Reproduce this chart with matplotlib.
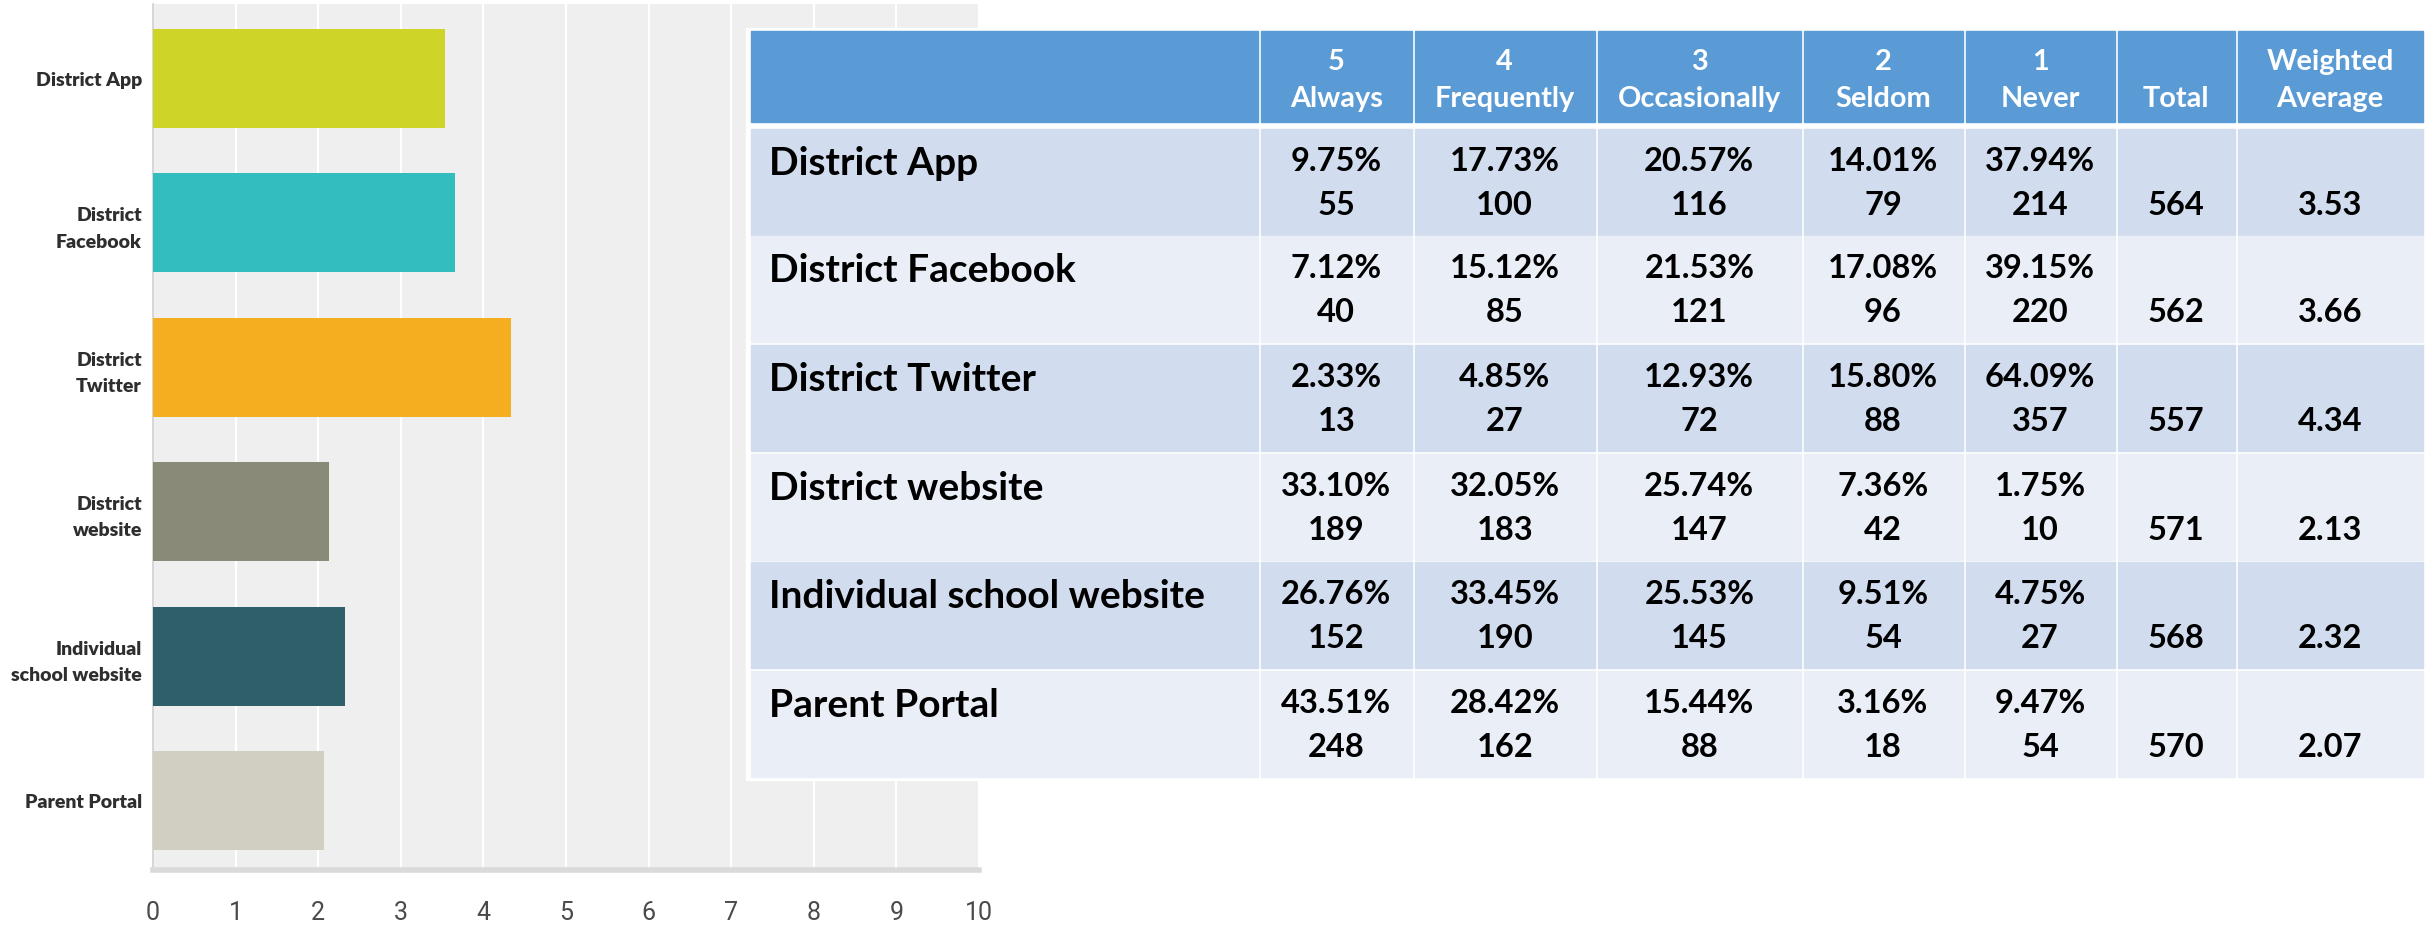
import numpy as np
import matplotlib
matplotlib.use("Agg")
import matplotlib.pyplot as plt
from matplotlib.patches import Rectangle

# --- data ---
channels = ["District App", "District Facebook", "District Twitter",
            "District website", "Individual school website", "Parent Portal"]
bar_labels = ["District App", "District\nFacebook", "District\nTwitter",
              "District\nwebsite", "Individual\nschool website", "Parent Portal"]
weighted_avg = [3.53, 3.66, 4.34, 2.13, 2.32, 2.07]
bar_colors = ["#CED428", "#33BDBF", "#F5AE1F", "#8A8A78", "#2F5F6B", "#D0CFC1"]

scale_nums = ["5", "4", "3", "2", "1"]
scale_names = ["Always", "Frequently", "Occasionally", "Seldom", "Never"]

pct_app = [9.75, 17.73, 20.57, 14.01, 37.94]
pct_facebook = [7.12, 15.12, 21.53, 17.08, 39.15]
pct_twitter = [2.33, 4.85, 12.93, 15.80, 64.09]
pct_website = [33.10, 32.05, 25.74, 7.36, 1.75]
pct_school = [26.76, 33.45, 25.53, 9.51, 4.75]
pct_portal = [43.51, 28.42, 15.44, 3.16, 9.47]

n_app = [55, 100, 116, 79, 214]
n_facebook = [40, 85, 121, 96, 220]
n_twitter = [13, 27, 72, 88, 357]
n_website = [189, 183, 147, 42, 10]
n_school = [152, 190, 145, 54, 27]
n_portal = [248, 162, 88, 18, 54]

totals = [564, 562, 557, 571, 568, 570]

pcts = [pct_app, pct_facebook, pct_twitter, pct_website, pct_school, pct_portal]
counts = [n_app, n_facebook, n_twitter, n_website, n_school, n_portal]

W, H = 2428, 930
fig = plt.figure(figsize=(W / 100, H / 100), dpi=100)
fig.patch.set_facecolor("white")

tfont = ["Lato", "DejaVu Sans"]

# --- bar chart (left) ---
ax = fig.add_axes([153 / W, (H - 870) / H, (979 - 153) / W, (870 - 4) / H])
ax.set_facecolor("#EFEFEF")
y = np.arange(len(channels))
ax.barh(y, weighted_avg, height=0.685, color=bar_colors, zorder=3)
ax.set_xlim(0, 10)
ax.set_ylim(len(channels) - 0.52, -0.516)
ax.set_xticks(range(11))
ax.grid(axis="x", color="white", linewidth=1.6, zorder=1)
ax.set_axisbelow(True)
for s in ["top", "right"]:
    ax.spines[s].set_visible(False)
ax.spines["left"].set_color("#CFCFCF")
ax.spines["left"].set_linewidth(1.2)
ax.spines["bottom"].set_color("#DADADA")
ax.spines["bottom"].set_linewidth(4)
ax.set_yticks(y)
ax.set_yticklabels(bar_labels, family=tfont, fontweight="heavy", fontsize=14,
                   color="#2E2E2E", linespacing=1.65)
ax.tick_params(axis="y", length=0, pad=8)
ax.tick_params(axis="x", length=0, pad=22, labelsize=18, labelcolor="#4A4A4A")
for lab in ax.get_xticklabels():
    lab.set_family(["Roboto", "DejaVu Sans"])
xl = ax.get_xticklabels()
xl[-1].set_x(9.88)
xl[0].set_x(0.04)

# --- table (right) ---
tab = fig.add_axes([0, 0, 1, 1], facecolor="none")
tab.set_xlim(0, W)
tab.set_ylim(H, 0)
tab.axis("off")

col_edges = [749, 1259.5, 1413, 1596.5, 1802, 1964, 2116, 2236, 2424]
head_top, head_bot = 31, 122
row_tops = [129, 235.5, 345, 454, 562, 671]
row_h = 106
gap = 1.5

tab.add_patch(Rectangle((746, 28), 2428 - 746, 780 - 28, color="white", zorder=1))
for i in range(len(col_edges) - 1):
    x0, x1 = col_edges[i] + gap, col_edges[i + 1] - gap
    tab.add_patch(Rectangle((x0, head_top), x1 - x0, head_bot - head_top,
                            color="#5B9BD5", zorder=2))
    for r, top in enumerate(row_tops):
        fc = "#D1DCEE" if r % 2 == 0 else "#E9EEF7"
        tab.add_patch(Rectangle((x0, top), x1 - x0, row_h, color=fc, zorder=2))

centers = [(col_edges[i] + col_edges[i + 1]) / 2 for i in range(len(col_edges) - 1)]
hkw = dict(family=tfont, fontweight="bold", fontsize=20.8, color="white",
           ha="center", va="baseline", zorder=3)
for j in range(5):
    tab.text(centers[j + 1], 70, scale_nums[j], **hkw)
    tab.text(centers[j + 1], 107, scale_names[j], **hkw)
tab.text(centers[6], 107, "Total", **hkw)
tab.text(centers[7], 70, "Weighted", **hkw)
tab.text(centers[7], 107, "Average", **hkw)

nkw = dict(family=tfont, fontweight="bold", fontsize=23.5, color="black",
           ha="center", va="baseline", zorder=3)
for r, top in enumerate(row_tops):
    tab.text(769, top + 46, channels[r], family=tfont, fontweight="bold",
             fontsize=28, color="black", ha="left", va="baseline", zorder=3)
    for j in range(5):
        tab.text(centers[j + 1], top + 42, f"{pcts[r][j]:.2f}%", **nkw)
        tab.text(centers[j + 1], top + 86, f"{counts[r][j]}", **nkw)
    tab.text(centers[6], top + 86, f"{totals[r]}", **nkw)
    tab.text(centers[7], top + 86, f"{weighted_avg[r]:.2f}", **nkw)

fig.savefig("out.png", dpi=100)
